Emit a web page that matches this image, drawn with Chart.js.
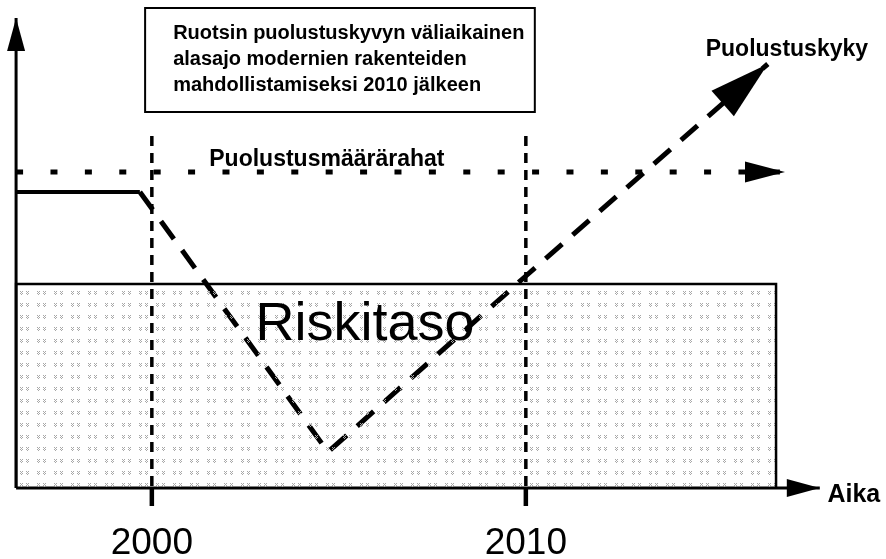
<!DOCTYPE html>
<html>
<head>
<meta charset="utf-8">
<script src="https://cdn.jsdelivr.net/npm/chart.js@4.4.1/dist/chart.umd.min.js"></script>
<style>
  html, body { margin: 0; padding: 0; background: #fff; }
  #wrap { width: 886px; height: 559px; }
</style>
</head>
<body>
<div id="wrap"><canvas id="chart"></canvas></div>
<script>
// x = year, y = level (arbitrary units, 0 = time axis)
const riskYears = [1996.37, 1996.37, 2016.69, 2016.69];
const riskLevels = [0, 51, 51, 0];
const fundingYears = [1996.37, 2016.93];
const fundingLevels = [79, 79];
const capabilityYears = [1996.37, 1999.68];
const capabilityLevels = [74, 74];
const trendYears = [1999.68, 2004.71, 2010, 2016.47];
const trendLevels = [74, 9, 53, 106];
const markerYears = [2000, 2010];
const markerTop = 88;
const markerBottom = -4.5;
const timeAxisYears = [1996.37, 2017.86];
const levelAxisTop = 117.5;
const tickLabels = ['2000', '2010'];
const boxLines = [
    'Ruotsin puolustuskyvyn väliaikainen',
    'alasajo modernien rakenteiden',
    'mahdollistamiseksi 2010 jälkeen'
];

const FONT = "'Liberation Sans', Arial, sans-serif";

function pts(xs, ys) {
    return xs.map((x, i) => ({ x: x, y: ys[i] }));
}

// light dotted texture for the risk band
function makePattern() {
    const c = document.createElement('canvas');
    c.width = 17; c.height = 12;
    const g = c.getContext('2d');
    g.fillStyle = '#a8a8a8';
    [[3, 3], [5, 3], [4, 4], [3, 5], [5, 5], [9, 3], [11, 3], [10, 4], [9, 5], [11, 5], [4, 6], [10, 6]].forEach(p => {
        g.fillRect(p[0], p[1], 1, 1);
    });
    return document.getElementById('chart').getContext('2d').createPattern(c, 'repeat');
}

const line = (data, extra) => Object.assign({
    data: data,
    showLine: true,
    pointRadius: 0,
    borderColor: '#000',
    borderWidth: 3,
    borderCapStyle: 'butt',
    fill: false,
    clip: false,
    tension: 0
}, extra);

const datasets = [
    line(pts(riskYears, riskLevels), { borderWidth: 2.5, fill: 'origin', backgroundColor: makePattern() }),
    line(pts(fundingYears, fundingLevels), { borderWidth: 5, borderDash: [7, 27.4], arrow: { len: 40, half: 10.5 } }),
    line(pts(capabilityYears, capabilityLevels), { borderWidth: 4 }),
    line(pts(trendYears, trendLevels), { borderWidth: 5, borderDash: [22, 14], arrow: { len: 60, half: 17 } }),
    line(pts(timeAxisYears, [0, 0]), { borderWidth: 3, arrow: { len: 33, half: 9 } }),
    line(pts([timeAxisYears[0], timeAxisYears[0]], [0, levelAxisTop]), { borderWidth: 3, arrow: { len: 33, half: 9 } })
];
markerYears.forEach(yr => {
    datasets.push(line(pts([yr, yr], [markerTop, 0]), { borderWidth: 3.5, borderDash: [10, 7] }));
    datasets.push(line(pts([yr, yr], [0, markerBottom]), { borderWidth: 4.5 }));
});

const texts = [
    { t: 'Riskitaso', x: 2005.7, y: 40.75, font: '54px ' + FONT },
    { t: 'Puolustusmäärärahat', x: 2004.68, y: 82, font: 'bold 23px ' + FONT },
    { t: 'Puolustuskyky', x: 2016.98, y: 109.5, font: 'bold 23px ' + FONT },
    { t: 'Aika', x: 2018.77, y: -1.75, font: 'bold 25px ' + FONT }
];

const diagramPlugin = {
    id: 'diagram',
    afterDatasetsDraw(chart) {
        const ctx = chart.ctx;
        const xs = chart.scales.x, ys = chart.scales.y;
        ctx.save();
        ctx.fillStyle = '#000';

        // arrowheads at the end of lines
        chart.data.datasets.forEach((ds, i) => {
            if (!ds.arrow) return;
            const el = chart.getDatasetMeta(i).data;
            const a = el[el.length - 2], b = el[el.length - 1];
            const ang = Math.atan2(b.y - a.y, b.x - a.x);
            const bx = b.x - Math.cos(ang) * ds.arrow.len;
            const by = b.y - Math.sin(ang) * ds.arrow.len;
            const nx = -Math.sin(ang) * ds.arrow.half, ny = Math.cos(ang) * ds.arrow.half;
            ctx.beginPath();
            ctx.moveTo(b.x, b.y);
            ctx.lineTo(bx + nx, by + ny);
            ctx.lineTo(bx - nx, by - ny);
            ctx.closePath();
            ctx.fill();
        });

        // labels
        ctx.textAlign = 'center';
        ctx.textBaseline = 'middle';
        texts.forEach(o => {
            ctx.font = o.font;
            ctx.fillText(o.t, xs.getPixelForValue(o.x), ys.getPixelForValue(o.y));
        });

        // year ticks
        ctx.font = '37px ' + FONT;
        markerYears.forEach((yr, i) => {
            ctx.fillText(tickLabels[i], xs.getPixelForValue(yr), ys.getPixelForValue(-13.9));
        });

        // note box
        const l = xs.getPixelForValue(1999.82), r = xs.getPixelForValue(2010.24);
        const t = ys.getPixelForValue(120), btm = ys.getPixelForValue(94);
        ctx.lineWidth = 2;
        ctx.strokeStyle = '#000';
        ctx.strokeRect(l, t, r - l, btm - t);
        ctx.font = 'bold 20px ' + FONT;
        ctx.textAlign = 'left';
        [113.75, 107.25, 100.75].forEach((lv, i) => {
            ctx.fillText(boxLines[i], xs.getPixelForValue(2000.57), ys.getPixelForValue(lv));
        });
        ctx.restore();
    }
};

new Chart(document.getElementById('chart'), {
    type: 'scatter',
    data: { datasets: datasets },
    options: {
        responsive: true,
        maintainAspectRatio: false,
        animation: false,
        layout: { padding: 0 },
        plugins: { legend: { display: false }, tooltip: { enabled: false } },
        scales: {
            x: { type: 'linear', min: 1995.94, max: 2019.63, display: false },
            y: { type: 'linear', min: -17.75, max: 122, display: false }
        }
    },
    plugins: [diagramPlugin]
});
</script>
</body>
</html>
